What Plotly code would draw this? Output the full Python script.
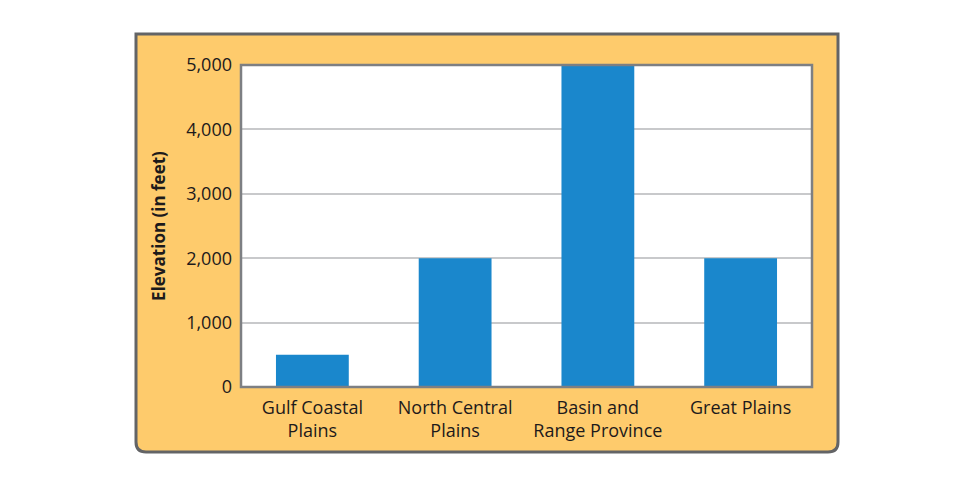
import plotly.graph_objects as go

categories = ["Gulf Coastal<br>Plains", "North Central<br>Plains", "Basin and<br>Range Province", "Great Plains"]
elevations = [500, 2000, 5000, 2000]
y_ticks = [0, 1000, 2000, 3000, 4000, 5000]
y_tick_labels = ["0", "1,000", "2,000", "3,000", "4,000", "5,000"]

# page body has an 8px margin; work in screen pixels and offset
OFF = 8
W, H = 960 - 2 * OFF, 485 - 2 * OFF
PL, PR, PT, PB = 241, 812, 65, 387  # plot area in screen pixels
L, T = PL - OFF, PT - OFF
R, B = W - (PR - OFF), H - (PB - OFF)
pw, ph = W - L - R, H - T - B

def px_x(x):
    return (x - PL) / pw

def px_y(y):
    return (PB - y) / ph

# panel with rounded bottom corners
x0, x1 = px_x(136), px_x(838)
y0, y1 = px_y(452), px_y(34)
rx, ry = 10 / pw, 10 / ph
panel_path = (
    f"M {x0},{y1} L {x1},{y1} L {x1},{y0+ry} Q {x1},{y0} {x1-rx},{y0} "
    f"L {x0+rx},{y0} Q {x0},{y0} {x0},{y0+ry} Z"
)

fig = go.Figure()
fig.add_trace(go.Bar(
    x=categories, y=elevations,
    marker=dict(color="#1a87cc", line=dict(width=0)),
    width=0.51,
    hoverinfo="skip",
))

fig.update_layout(
    width=W, height=H,
    margin=dict(l=L, r=R, t=T, b=B, pad=0),
    paper_bgcolor="white",
    plot_bgcolor="white",
    showlegend=False,
    font=dict(family="Open Sans, Noto Sans, sans-serif", size=18, color="#1d1a1b"),
    shapes=[
        dict(type="path", path=panel_path, xref="paper", yref="paper",
             fillcolor="#fecb6c", line=dict(color="#636466", width=3), layer="below"),
        dict(type="rect", xref="paper", yref="paper", x0=0, x1=1, y0=0, y1=1,
             fillcolor="white", line=dict(width=0), layer="below"),
        dict(type="rect", xref="paper", yref="paper", x0=0, x1=1, y0=0, y1=1,
             fillcolor="rgba(0,0,0,0)", line=dict(color="#7d7f83", width=2.5), layer="above"),
    ],
    xaxis=dict(
        showgrid=False, showline=False, ticks="",
        tickfont=dict(size=18),
        ticklabelstandoff=8,
    ),
    yaxis=dict(
        range=[0, 5000],
        tickvals=y_ticks, ticktext=y_tick_labels,
        showgrid=True, gridcolor="#c8c9cb", gridwidth=1.5,
        zeroline=False, showline=False, ticks="",
        tickfont=dict(size=18),
        ticklabelstandoff=8,
        title=dict(text="<b>Elevation (in feet)</b>", font=dict(size=17), standoff=16),
    ),
)

fig.write_html("out.html")
